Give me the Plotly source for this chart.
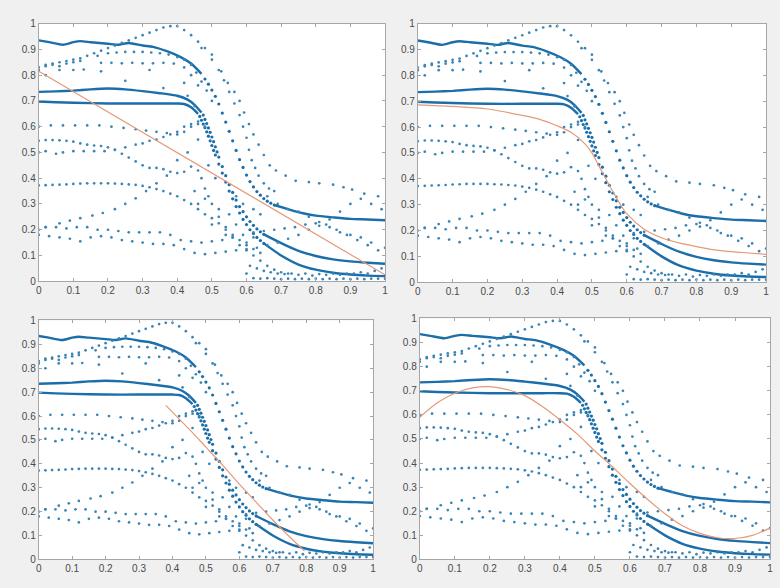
import plotly.graph_objects as go

# ---- tick labels -------------------------------------------------------
TICK_VALS = [0, 0.1, 0.2, 0.3, 0.4, 0.5, 0.6, 0.7, 0.8, 0.9, 1.0]
TICK_TEXT = ["0", "0.1", "0.2", "0.3", "0.4", "0.5", "0.6", "0.7", "0.8", "0.9", "1"]

# ---- dense (solid-looking) measured curves: flat head, steep dotted part, tail ----
top_head_x = [0, 0.03, 0.07, 0.10, 0.12, 0.15, 0.20, 0.23, 0.26, 0.30, 0.33, 0.37, 0.41, 0.44, 0.47]
top_head_y = [0.935, 0.928, 0.918, 0.928, 0.932, 0.928, 0.922, 0.918, 0.925, 0.915, 0.91, 0.893, 0.87, 0.845, 0.805]
top_mid_x = [0.48, 0.49, 0.50, 0.51, 0.52, 0.53, 0.54, 0.55, 0.56, 0.57, 0.58, 0.59, 0.60, 0.61, 0.62, 0.63, 0.64, 0.65, 0.66, 0.67, 0.68]
top_mid_y = [0.785, 0.765, 0.742, 0.718, 0.688, 0.653, 0.618, 0.582, 0.545, 0.508, 0.472, 0.442, 0.412, 0.387, 0.366, 0.348, 0.334, 0.321, 0.311, 0.303, 0.296]
top_tail_x = [0.68, 0.72, 0.76, 0.80, 0.85, 0.90, 0.95, 1.0]
top_tail_y = [0.296, 0.28, 0.265, 0.255, 0.248, 0.242, 0.24, 0.237]

m1_head_x = [0, 0.05, 0.10, 0.15, 0.20, 0.25, 0.30, 0.35, 0.40, 0.43, 0.45, 0.47]
m1_head_y = [0.735, 0.737, 0.74, 0.745, 0.748, 0.745, 0.738, 0.73, 0.72, 0.705, 0.685, 0.655]
m1_mid_x = [0.475, 0.48, 0.485, 0.49, 0.495, 0.50, 0.505, 0.51, 0.515, 0.52, 0.53, 0.54, 0.55, 0.56, 0.57, 0.58, 0.59, 0.60, 0.61, 0.62, 0.63, 0.64, 0.65]
m1_mid_y = [0.645, 0.628, 0.612, 0.595, 0.578, 0.56, 0.542, 0.522, 0.502, 0.482, 0.445, 0.41, 0.375, 0.345, 0.315, 0.29, 0.27, 0.25, 0.232, 0.217, 0.203, 0.192, 0.182]
m1_tail_x = [0.65, 0.70, 0.75, 0.80, 0.85, 0.90, 0.95, 1.0]
m1_tail_y = [0.182, 0.148, 0.118, 0.098, 0.085, 0.077, 0.072, 0.068]

m2_head_x = [0, 0.05, 0.10, 0.20, 0.30, 0.35, 0.40, 0.42, 0.44, 0.46]
m2_head_y = [0.698, 0.695, 0.693, 0.69, 0.69, 0.69, 0.69, 0.688, 0.675, 0.65]
m2_mid_x = [0.465, 0.47, 0.475, 0.48, 0.485, 0.49, 0.495, 0.50, 0.505, 0.51, 0.52, 0.53, 0.54, 0.55, 0.56, 0.57, 0.58, 0.59, 0.60, 0.61, 0.62, 0.63, 0.64, 0.65]
m2_mid_y = [0.64, 0.625, 0.61, 0.596, 0.58, 0.563, 0.545, 0.527, 0.508, 0.49, 0.455, 0.42, 0.385, 0.35, 0.32, 0.29, 0.265, 0.24, 0.22, 0.2, 0.185, 0.17, 0.158, 0.147]
m2_tail_x = [0.65, 0.70, 0.75, 0.80, 0.85, 0.90, 0.95, 1.0]
m2_tail_y = [0.147, 0.1, 0.065, 0.045, 0.033, 0.026, 0.022, 0.02]

# ---- dotted measured curves ----
peak_x = [0.0, 0.02, 0.04, 0.06, 0.08, 0.10, 0.12, 0.14, 0.16, 0.18, 0.20, 0.22, 0.24, 0.26, 0.28, 0.30, 0.32, 0.34, 0.36, 0.38,
          0.40, 0.42, 0.44, 0.46, 0.48, 0.50, 0.52, 0.535, 0.55, 0.565, 0.58, 0.59, 0.60, 0.607, 0.615, 0.625, 0.635, 0.65, 0.665, 0.68]
peak_y = [0.83, 0.84, 0.845, 0.85, 0.855, 0.86, 0.865, 0.875, 0.885, 0.895, 0.905, 0.915, 0.925, 0.935, 0.945, 0.955, 0.965, 0.975, 0.985, 0.99,
          0.99, 0.975, 0.955, 0.93, 0.905, 0.88, 0.82, 0.78, 0.735, 0.69, 0.645, 0.6, 0.557, 0.51, 0.47, 0.44, 0.41, 0.38, 0.36, 0.35]

outer_x = [0.47, 0.50, 0.527, 0.546, 0.565, 0.58, 0.593, 0.607, 0.62, 0.635, 0.65, 0.667, 0.685, 0.713, 0.742, 0.78, 0.81, 0.85, 0.88, 0.905, 0.94, 0.98]
outer_y = [0.905, 0.86, 0.815, 0.77, 0.735, 0.70, 0.655, 0.61, 0.57, 0.53, 0.49, 0.45, 0.43, 0.41, 0.39, 0.385, 0.38, 0.375, 0.365, 0.356, 0.34, 0.33]

row89_x = [0.17, 0.20, 0.225, 0.25, 0.275, 0.30, 0.325, 0.35, 0.375, 0.40, 0.42, 0.44, 0.455, 0.47, 0.485, 0.50]
row89_y = [0.875, 0.885, 0.888, 0.89, 0.89, 0.89, 0.888, 0.885, 0.88, 0.87, 0.86, 0.84, 0.81, 0.775, 0.74, 0.70]

row85_x = [0.0, 0.02, 0.04, 0.06, 0.08, 0.10, 0.12, 0.18, 0.21, 0.24, 0.27, 0.30, 0.33, 0.36, 0.39, 0.42, 0.44, 0.46]
row85_y = [0.82, 0.835, 0.84, 0.835, 0.845, 0.85, 0.855, 0.848, 0.848, 0.846, 0.848, 0.846, 0.846, 0.848, 0.845, 0.83, 0.8, 0.76]

sparse_hi_x = [0.02, 0.06, 0.10, 0.13, 0.18, 0.25, 0.32, 0.36, 0.42, 0.43, 0.45]
sparse_hi_y = [0.80, 0.82, 0.82, 0.822, 0.815, 0.778, 0.82, 0.75, 0.77, 0.72, 0.68]

row60_x = [0.0, 0.035, 0.07, 0.105, 0.14, 0.175, 0.21, 0.245, 0.28, 0.31, 0.34, 0.37, 0.40, 0.42, 0.44, 0.46, 0.48]
row60_y = [0.60, 0.605, 0.605, 0.605, 0.605, 0.605, 0.60, 0.595, 0.59, 0.585, 0.58, 0.575, 0.57, 0.58, 0.60, 0.61, 0.60]

row55_x = [0.0, 0.02, 0.04, 0.06, 0.08, 0.10, 0.12, 0.14, 0.16, 0.18, 0.20, 0.22, 0.24, 0.26, 0.28, 0.30, 0.32, 0.34, 0.36, 0.38,
           0.40, 0.42, 0.44, 0.46, 0.47, 0.48, 0.49, 0.50, 0.52, 0.54, 0.56, 0.58, 0.60, 0.62, 0.64, 0.66, 0.68, 0.70, 0.72]
row55_y = [0.545, 0.548, 0.548, 0.547, 0.545, 0.542, 0.535, 0.53, 0.527, 0.525, 0.52, 0.51, 0.495, 0.48, 0.465, 0.45, 0.44, 0.44, 0.435, 0.425,
           0.42, 0.425, 0.445, 0.43, 0.40, 0.36, 0.33, 0.30, 0.25, 0.21, 0.17, 0.14, 0.12, 0.10, 0.08, 0.06, 0.045, 0.035, 0.03]

row50_x = [0.0, 0.02, 0.05, 0.07, 0.10, 0.13, 0.16, 0.19, 0.22, 0.25, 0.28, 0.30, 0.32, 0.34, 0.36, 0.38, 0.40, 0.42, 0.44, 0.46]
row50_y = [0.50, 0.505, 0.495, 0.50, 0.505, 0.505, 0.505, 0.505, 0.51, 0.52, 0.53, 0.535, 0.545, 0.55, 0.56, 0.57, 0.58, 0.60, 0.61, 0.62]

row37_x = [0.0, 0.02, 0.04, 0.06, 0.08, 0.10, 0.12, 0.14, 0.16, 0.18, 0.20, 0.22, 0.24, 0.26, 0.28, 0.30, 0.32, 0.34, 0.36, 0.38,
           0.40, 0.42, 0.44, 0.46, 0.48, 0.50, 0.52, 0.54, 0.56, 0.58, 0.60, 0.62, 0.64]
row37_y = [0.372, 0.373, 0.374, 0.375, 0.376, 0.378, 0.379, 0.38, 0.38, 0.38, 0.38, 0.379, 0.378, 0.376, 0.374, 0.37, 0.365, 0.358, 0.35, 0.34,
           0.33, 0.315, 0.30, 0.28, 0.26, 0.245, 0.225, 0.20, 0.18, 0.16, 0.14, 0.125, 0.11]

row20_x = [0.0, 0.02, 0.05, 0.08, 0.11, 0.14, 0.17, 0.20, 0.23, 0.26, 0.29, 0.32, 0.35, 0.38, 0.41, 0.44, 0.47, 0.50, 0.53, 0.56,
           0.59, 0.62, 0.65, 0.68, 0.71, 0.74, 0.77, 0.80, 0.83, 0.86, 0.89, 0.92, 0.95, 0.98]
row20_y = [0.20, 0.21, 0.21, 0.205, 0.21, 0.21, 0.20, 0.20, 0.195, 0.19, 0.19, 0.19, 0.19, 0.18, 0.16, 0.155, 0.15, 0.155, 0.16, 0.17,
           0.18, 0.19, 0.195, 0.20, 0.205, 0.21, 0.22, 0.225, 0.22, 0.20, 0.18, 0.16, 0.14, 0.12]

row18_x = [0.0, 0.03, 0.06, 0.09, 0.12, 0.15, 0.18, 0.21, 0.24, 0.27, 0.30, 0.33, 0.36, 0.39, 0.42, 0.45, 0.48, 0.51, 0.54, 0.57,
           0.60, 0.63, 0.66, 0.69, 0.72, 0.75, 0.78, 0.81, 0.84, 0.87, 0.90, 0.93, 0.96, 0.99]
row18_y = [0.18, 0.175, 0.17, 0.165, 0.155, 0.17, 0.175, 0.17, 0.16, 0.155, 0.15, 0.145, 0.145, 0.14, 0.125, 0.11, 0.105, 0.11, 0.115, 0.12,
           0.125, 0.13, 0.14, 0.15, 0.165, 0.18, 0.20, 0.215, 0.24, 0.27, 0.30, 0.32, 0.30, 0.28]

rise_x = [0.02, 0.06, 0.09, 0.12, 0.155, 0.185, 0.22, 0.25, 0.28, 0.31, 0.34, 0.37]
rise_y = [0.21, 0.225, 0.235, 0.245, 0.255, 0.265, 0.28, 0.30, 0.322, 0.35, 0.38, 0.41]

scatter_x = [0.40, 0.43, 0.45, 0.46, 0.48, 0.50, 0.52, 0.55, 0.57, 0.59, 0.62, 0.64, 0.66, 0.69, 0.72, 0.75, 0.78, 0.81, 0.84,
             0.87, 0.90, 0.93, 0.96, 1.0, 0.46, 0.49, 0.51, 0.54, 0.57, 0.60, 0.62]
scatter_y = [0.47, 0.50, 0.35, 0.30, 0.32, 0.22, 0.28, 0.26, 0.33, 0.30, 0.28, 0.26, 0.33, 0.30, 0.28, 0.27, 0.25, 0.23, 0.21,
             0.19, 0.18, 0.17, 0.15, 0.13, 0.55, 0.45, 0.40, 0.18, 0.22, 0.15, 0.17]

floor_x = [0.60, 0.62, 0.64, 0.66, 0.68, 0.70, 0.72, 0.74, 0.76, 0.78, 0.80, 0.82, 0.84, 0.86, 0.88, 0.90, 0.92, 0.94, 0.96, 0.98, 1.0,
           0.61, 0.63, 0.65, 0.67, 0.69, 0.71, 0.73, 0.75, 0.77, 0.79, 0.81, 0.83, 0.85, 0.87, 0.89, 0.91, 0.93, 0.95, 0.97, 0.99]
floor_y = [0.03, 0.012, 0.01, 0.012, 0.01, 0.008, 0.01, 0.008, 0.01, 0.008, 0.01, 0.008, 0.01, 0.008, 0.01, 0.008, 0.01, 0.008, 0.01, 0.01, 0.01,
           0.06, 0.05, 0.04, 0.035, 0.03, 0.028, 0.03, 0.025, 0.03, 0.022, 0.028, 0.025, 0.03, 0.025, 0.03, 0.03, 0.035, 0.03, 0.04, 0.05]

# ---- orange fitted curves, one per panel ----
fit1_x = [0.0, 1.0]
fit1_y = [0.815, 0.025]
fit2_x = [0.0, 0.1, 0.2, 0.3, 0.35, 0.4, 0.44, 0.48, 0.50, 0.52, 0.55, 0.58, 0.60, 0.65, 0.70, 0.75, 0.80, 0.87, 0.93, 1.0]
fit2_y = [0.686, 0.68, 0.67, 0.645, 0.63, 0.605, 0.58, 0.535, 0.50, 0.45, 0.375, 0.305, 0.265, 0.205, 0.172, 0.152, 0.138, 0.122, 0.115, 0.108]
fit3_x = [0.38, 0.45, 0.50, 0.55, 0.60, 0.65, 0.70, 0.75, 0.795]
fit3_y = [0.645, 0.545, 0.47, 0.395, 0.315, 0.24, 0.165, 0.095, 0.035]
fit4_x = [0.0, 0.05, 0.10, 0.15, 0.20, 0.25, 0.30, 0.35, 0.40, 0.45, 0.50, 0.55, 0.60, 0.65, 0.70, 0.75, 0.80, 0.85, 0.90, 0.95, 1.0]
fit4_y = [0.59, 0.65, 0.69, 0.712, 0.717, 0.705, 0.68, 0.635, 0.58, 0.52, 0.45, 0.385, 0.315, 0.25, 0.19, 0.14, 0.108, 0.09, 0.087, 0.1, 0.13]

BLUE = "#1b6ea9"
DOT = "#3a85b6"
ORANGE = "#e59a78"

lines = [(top_head_x, top_head_y), (top_tail_x, top_tail_y),
         (m1_head_x, m1_head_y), (m1_tail_x, m1_tail_y),
         (m2_head_x, m2_head_y), (m2_tail_x, m2_tail_y)]
dense_dots = [(top_mid_x, top_mid_y), (m1_mid_x, m1_mid_y), (m2_mid_x, m2_mid_y)]
dots = [(peak_x, peak_y), (outer_x, outer_y), (row89_x, row89_y), (row85_x, row85_y),
        (sparse_hi_x, sparse_hi_y), (row60_x, row60_y), (row55_x, row55_y), (row50_x, row50_y),
        (row37_x, row37_y), (row20_x, row20_y), (row18_x, row18_y), (rise_x, rise_y),
        (scatter_x, scatter_y), (floor_x, floor_y)]
fits = [(fit1_x, fit1_y), (fit2_x, fit2_y), (fit3_x, fit3_y), (fit4_x, fit4_y)]

# panel domains (paper fractions) on a 780 x 588 canvas
W, H = 780, 588
panels = [
    ((36, 385), (18, 281)),
    ((418, 769), (18, 282)),
    ((36, 373), (321, 565)),
    ((420, 773), (319, 565)),
]

fig = go.Figure()
layout = {}
for i, ((x0, x1), (t, b)) in enumerate(panels):
    n = "" if i == 0 else str(i + 1)
    xa, ya = "x" + n, "y" + n
    for xs, ys in lines:
        fig.add_trace(go.Scatter(x=xs, y=ys, mode="lines", xaxis=xa, yaxis=ya,
                                 line=dict(color=BLUE, width=2.4, shape="spline", smoothing=0.6),
                                 hoverinfo="skip"))
    for xs, ys in dense_dots:
        fig.add_trace(go.Scatter(x=xs, y=ys, mode="markers", xaxis=xa, yaxis=ya,
                                 marker=dict(color=BLUE, size=3.2), hoverinfo="skip"))
    for xs, ys in dots:
        fig.add_trace(go.Scatter(x=xs, y=ys, mode="markers", xaxis=xa, yaxis=ya,
                                 marker=dict(color=DOT, size=2.7), hoverinfo="skip"))
    fx, fy = fits[i]
    fig.add_trace(go.Scatter(x=fx, y=fy, mode="lines", xaxis=xa, yaxis=ya,
                             line=dict(color=ORANGE, width=1.2, shape="spline", smoothing=0.8),
                             hoverinfo="skip"))
    common = dict(range=[0, 1], tickvals=TICK_VALS, ticktext=TICK_TEXT, showgrid=False,
                  zeroline=False, showline=True, linecolor="#a6a6a6", linewidth=1, mirror="ticks",
                  ticks="inside", ticklen=3, tickcolor="#a6a6a6",
                  tickfont=dict(family="Liberation Sans, Arial", size=10, color="#4a4a4a"))
    layout["xaxis" + n] = dict(domain=[x0 / W, x1 / W], anchor=ya, **common)
    layout["yaxis" + n] = dict(domain=[1 - b / H, 1 - t / H], anchor=xa, **common)

fig.update_layout(width=W, height=H, margin=dict(l=0, r=0, t=0, b=0),
                  paper_bgcolor="#f0f0f0", plot_bgcolor="#ffffff", showlegend=False, **layout)
fig.write_html("out.html")
